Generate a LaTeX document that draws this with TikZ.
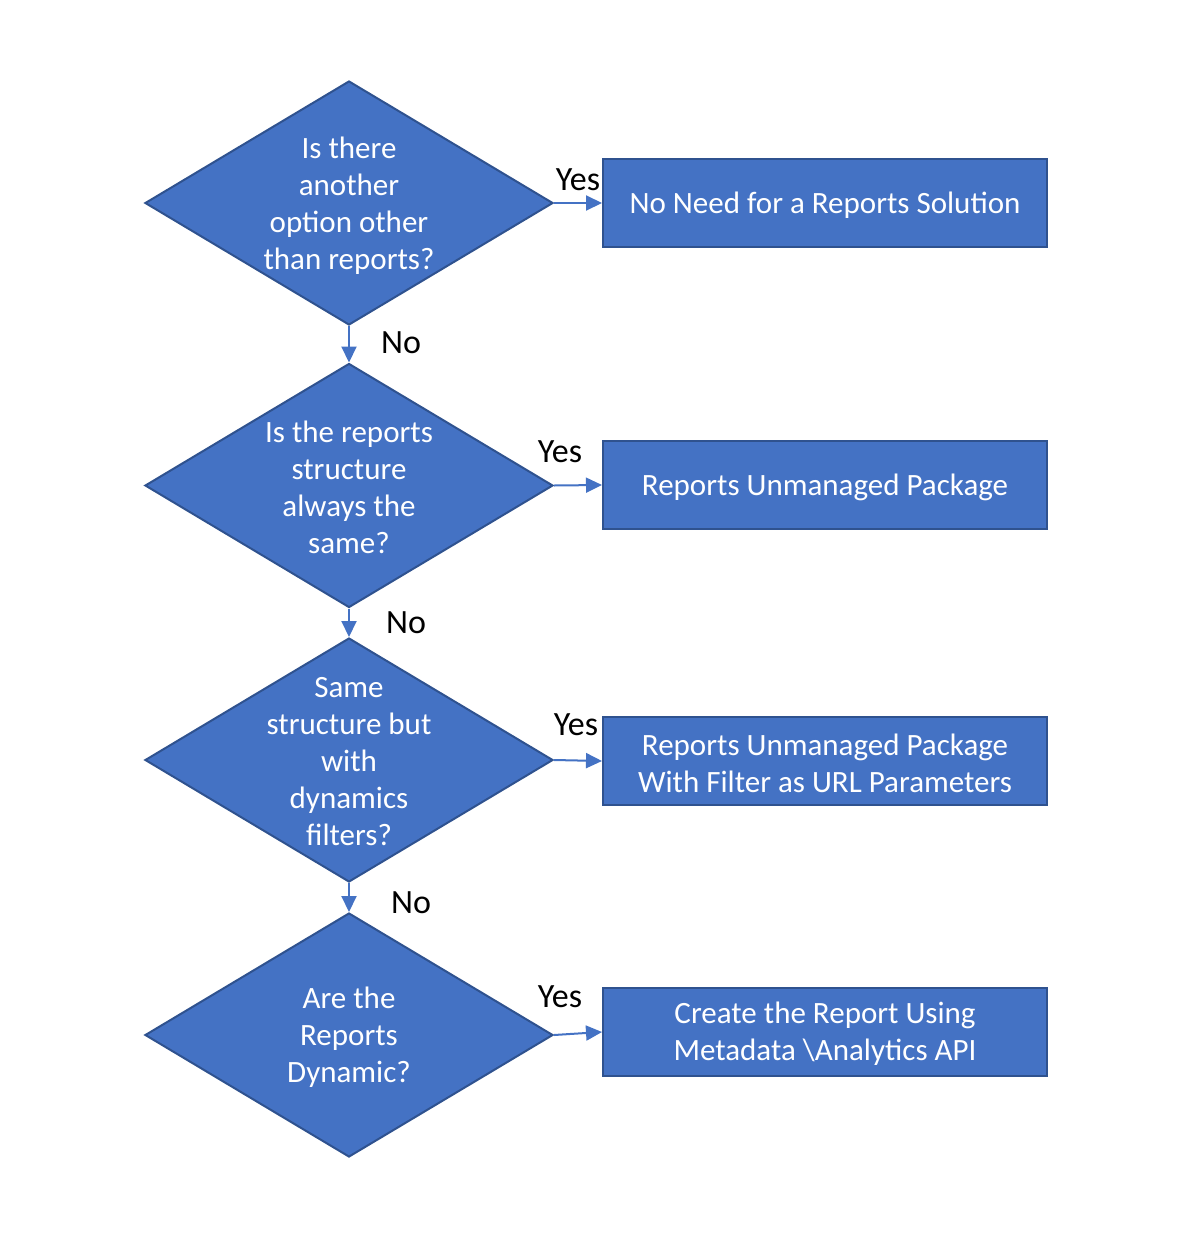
\documentclass[tikz,border=0pt]{standalone}
\usepackage{fontspec}
\setmainfont{Carlito}
\usetikzlibrary{shapes.geometric,arrows.meta}
\definecolor{fillblue}{HTML}{4472C4}
\definecolor{edgeblue}{HTML}{2F528F}
\begin{document}
\begin{tikzpicture}[x=1pt,y=-1pt,
  dia/.style={diamond,draw=edgeblue,fill=fillblue,line width=2pt,minimum width=408pt,minimum height=244pt,inner sep=0pt},
  dtext/.style={text=white,align=center,font=\fontsize{31}{37}\selectfont,inner sep=0pt},
  res/.style={rectangle,draw=edgeblue,fill=fillblue,line width=2pt,minimum width=444pt,minimum height=88pt,inner sep=0pt},
  rtext/.style={text=white,align=center,font=\fontsize{31}{37}\selectfont,inner sep=0pt},
  conn/.style={draw=fillblue,line width=2pt,-{Triangle[length=16pt,width=15pt]}},
  lab/.style={text=black,font=\fontsize{34}{40}\selectfont,inner sep=0pt}]
\fill[white] (0,0) rectangle (1200,1256);
\useasboundingbox (0,0) rectangle (1200,1256);
% decisions
\node[dia] (d1) at (349,203) {};
\node[dtext] (t1) at (349,206) {Is there\\another\\option other\\than reports?};
\node[dia] (d2) at (349,485.5) {};
\node[dtext] (t2) at (349,487.5) {Is the reports\\structure\\always the\\same?};
\node[dia] (d3) at (349,760) {};
\node[dtext] (t3) at (349,761.5) {Same\\structure but\\with\\dynamics\\filters?};
\node[dia] (d4) at (349,1035) {};
\node[dtext] (t4) at (349,1037) {Are the\\Reports\\Dynamic?};
% results
\node[res] (b1) at (825,203) {};
\node[rtext] (r1) at (825,205) {No Need for a Reports Solution};
\node[res] (b2) at (825,485) {};
\node[rtext] (r2) at (825,487) {Reports Unmanaged Package};
\node[res] (b3) at (825,761) {};
\node[rtext] (r3) at (825,763) {Reports Unmanaged Package\\With Filter as URL Parameters};
\node[res] (b4) at (825,1032) {};
\node[rtext] (r4) at (825,1034) {Create the Report Using\\Metadata \textbackslash Analytics API};
% connectors
\draw[conn] (d1.east) -- (b1.west);
\draw[conn] (d2.east) -- (b2.west);
\draw[conn] (d3.east) -- (b3.west);
\draw[conn] (d4.east) -- (b4.west);
\draw[conn] (d1.south) -- (d2.north);
\draw[conn] (d2.south) -- (d3.north);
\draw[conn] (d3.south) -- (d4.north);
% labels
\node[lab] (y1) at (578,180) {Yes};
\node[lab] (y2) at (560,452) {Yes};
\node[lab] (y3) at (576,725) {Yes};
\node[lab] (y4) at (560,997) {Yes};
\node[lab] (n1) at (401,343) {No};
\node[lab] (n2) at (406,623) {No};
\node[lab] (n3) at (411,903) {No};
\end{tikzpicture}
\end{document}
